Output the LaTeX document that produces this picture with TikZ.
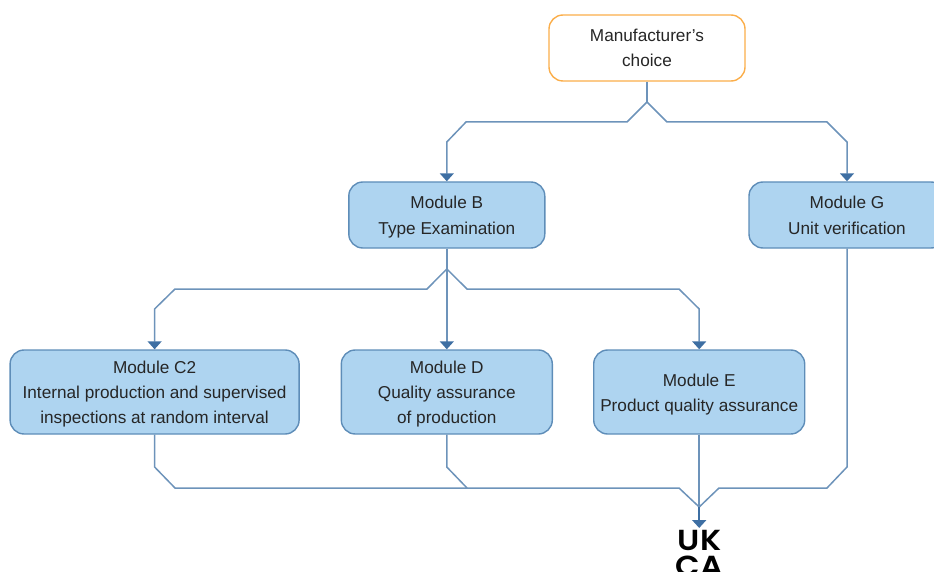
\documentclass[tikz,border=0pt]{standalone}
\usepackage{fontspec}
\setmainfont{Liberation Sans}
\newfontfamily\logofont{Poppins SemiBold}
\usetikzlibrary{arrows.meta}
\definecolor{boxfill}{HTML}{AED4F0}
\definecolor{boxline}{HTML}{5E8DB8}
\definecolor{conn}{HTML}{6D93BA}
\definecolor{tipc}{HTML}{3E6FA3}
\definecolor{orangeline}{HTML}{FBAE4A}
\newcommand{\tsa}{\rule{0pt}{17pt}}
\newcommand{\tsb}{\rule[-4pt]{0pt}{4pt}}
\tikzset{
  x=1pt,y=-1pt,
  modbox/.style={draw=boxline,fill=boxfill,line width=1.4pt,rounded corners=14pt,align=center,inner sep=0pt,font=\fontsize{17.2}{25}\selectfont,text=black!85},
  choicebox/.style={modbox,draw=orangeline,fill=white},
  link/.style={draw=conn,line width=1.5pt},
  linkarrow/.style={link,-{Triangle[length=8pt,width=14pt,fill=tipc,color=tipc]}},
  logotext/.style={inner sep=0pt,anchor=base,font=\logofont\fontsize{29}{29}\selectfont,xscale=1.1,transform shape}
}
\begin{document}
\begin{tikzpicture}
\useasboundingbox (0,0) rectangle (934,572);
\clip (0,0) rectangle (934,572);
\node[choicebox,minimum width=196pt,minimum height=66pt] (M) at (647,48) {\tsa Manufacturer's\\choice\tsb};
\node[modbox,minimum width=196pt,minimum height=66pt] (B) at (446.8,215) {\tsa Module B\\Type Examination\tsb};
\node[modbox,minimum width=196pt,minimum height=66pt] (G) at (847,215) {\tsa Module G\\Unit verification\tsb};
\node[modbox,minimum width=289pt,minimum height=84pt] (C) at (154.6,392) {\tsa Module C2\\Internal production and supervised\\inspections at random interval\tsb};
\node[modbox,minimum width=211pt,minimum height=84pt] (D) at (446.8,392) {\tsa Module D\\Quality assurance\\of production\tsb};
\node[modbox,minimum width=211pt,minimum height=84pt] (E) at (699.2,392) {\tsa Module E\\Product quality assurance\tsb};
\coordinate (t1) at (647,102);
\coordinate (t2) at (446.8,269);
\coordinate (j) at (699.2,507);
\coordinate (u) at (699.2,528);
\draw[link] (M.south) -- (t1);
\draw[linkarrow] (t1) -- (627,122) -- (466,122) -- (446.8,142) -- (B.north);
\draw[linkarrow] (t1) -- (667,122) -- (827,122) -- (847,142) -- (G.north);
\draw[link] (B.south) -- (t2);
\draw[linkarrow] (t2) -- (427,289) -- (175,289) -- (154.6,309) -- (C.north);
\draw[linkarrow] (t2) -- (D.north);
\draw[linkarrow] (t2) -- (467,289) -- (679,289) -- (699.2,309) -- (E.north);
\draw[link] (C.south) -- (154.6,467) -- (175,488) -- (679,488) -- (j);
\draw[link] (D.south) -- (446.8,467) -- (467,488);
\draw[link] (E.south) -- (j);
\draw[link] (G.south) -- (847,467) -- (827,488) -- (719,488) -- (j);
\draw[linkarrow,line width=2.2pt,draw=tipc] (j) -- (u);
\node[logotext] (uk) at (699.5,550) {UK};
\node[logotext] (ca) at (699.5,576) {CA};
\end{tikzpicture}
\end{document}
